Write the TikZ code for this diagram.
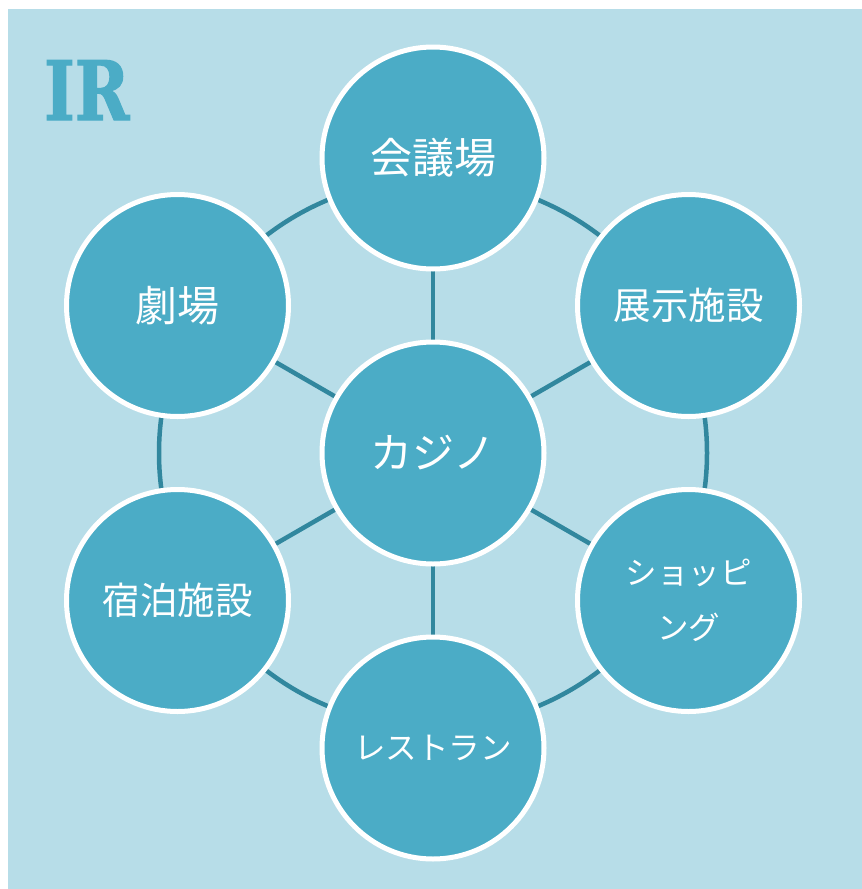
\documentclass[tikz,border=0pt]{standalone}
\usepackage{fontspec}
\newfontfamily\jpfont{Noto Sans CJK JP}
\newfontfamily\irfont{DejaVu Serif}[FakeStretch=0.8, BoldFeatures={FakeBold=1.5}]
\definecolor{bgblue}{HTML}{B7DDE8}
\definecolor{discfill}{HTML}{4BACC6}
\definecolor{linkcol}{HTML}{31879E}
\pgfdeclarelayer{bg}
\pgfsetlayers{bg,main}
\tikzset{
  disc/.style={circle, fill=discfill, draw=white, line width=5pt, minimum size=222pt, inner sep=0pt, text=white, align=center},
  big/.style={font=\jpfont\fontsize{42}{48}\selectfont},
  mid/.style={font=\jpfont\fontsize{37.5}{44}\selectfont},
  small/.style={font=\jpfont\fontsize{31.5}{55}\selectfont},
  link/.style={draw=linkcol, line width=4.5pt},
}
\begin{document}
\begin{tikzpicture}[x=1pt,y=-1pt]
\useasboundingbox (0,0) rectangle (862,889);
\node[disc, big] (c) at (433,453) {カジノ};
\node[disc, big] (top) at (433,158) {会議場};
\node[disc, mid] (tr) at (688.5,305.5) {展示施設};
\node[disc, small] (br) at (688.5,600.5) {ショッピ\\ング};
\node[disc, small] (bot) at (433,748) {レストラン};
\node[disc, mid] (bl) at (177.5,600.5) {宿泊施設};
\node[disc, big] (tl) at (177.5,305.5) {劇場};
\node[anchor=base west, inner sep=0pt, text=discfill, font=\irfont\bfseries\fontsize{82}{90}\selectfont] (ir) at (44,120) {IR};
\begin{pgfonlayer}{bg}
\fill[bgblue] (8,9) rectangle (862,889);
\draw[link] (c.center) circle[radius=274pt];
\foreach \n in {top,tr,br,bot,bl,tl} {\draw[link] (c.center) -- (\n.center);}
\end{pgfonlayer}
\end{tikzpicture}
\end{document}
